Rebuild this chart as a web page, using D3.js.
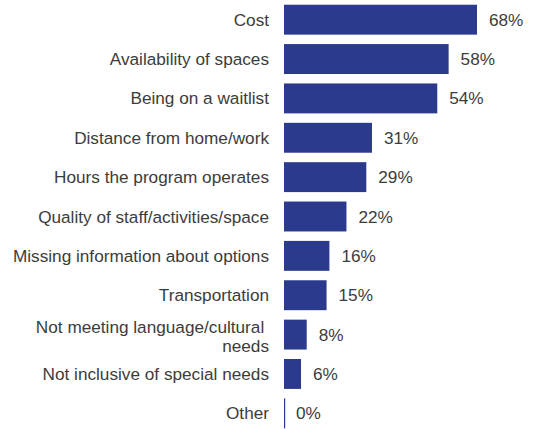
<!DOCTYPE html>
<html><head><meta charset="utf-8">
<script src="https://cdn.jsdelivr.net/npm/d3@7"></script>
<style>body{margin:0;background:#fff}svg{display:block}</style>
</head><body>
<script>
const categories = ["Cost","Availability of spaces","Being on a waitlist","Distance from home/work","Hours the program operates","Quality of staff/activities/space","Missing information about options","Transportation","Not meeting language/cultural needs","Not inclusive of special needs","Other"];
const labelLines = [["Cost"],["Availability of spaces"],["Being on a waitlist"],["Distance from home/work"],["Hours the program operates"],["Quality of staff/activities/space"],["Missing information about options"],["Transportation"],["Not meeting language/cultural\u00a0","needs"],["Not inclusive of special needs"],["Other"]];
const values = [68,58,54,31,29,22,16,15,8,6,0];

const W=533,H=429;
const svg=d3.select("body").append("svg").attr("width",W).attr("height",H);
const x=d3.scaleLinear().domain([0,68]).range([284,477]);
const y=d3.scaleBand().domain(categories).range([0,433]).paddingInner(0.24).paddingOuter(0.12);
const color="#2b3a8d", textColor="#3c3c3c";
const font="'Liberation Sans', Arial, sans-serif";
const fs=17.2;

const rows=svg.selectAll("g.row").data(categories).join("g").attr("class","row");
rows.append("rect")
 .attr("x",x(0))
 .attr("y",d=>y(d))
 .attr("height",y.bandwidth())
 .attr("width",(d,i)=>Math.max(x(values[i])-x(0),1.2))
 .attr("fill",color);
rows.append("text")
 .attr("x",(d,i)=>x(values[i])+12)
 .attr("y",d=>y(d)+y.bandwidth()/2)
 .attr("dy","0.35em")
 .attr("font-family",font).attr("font-size",fs).attr("fill",textColor)
 .text((d,i)=>values[i]+"%");
rows.each(function(d,i){
  const lines=labelLines[i];
  const t=d3.select(this).append("text")
   .attr("text-anchor","end")
   .attr("font-family",font).attr("font-size",fs).attr("fill",textColor)
   .style("white-space","pre");
  const cy=y(d)+y.bandwidth()/2+(lines.length>1?2:0);
  const lh=19;
  lines.forEach((l,j)=>{
    t.append("tspan").attr("x",269).attr("y",cy+(j-(lines.length-1)/2)*lh).attr("dy","0.35em").text(l);
  });
});
</script>
</body></html>
